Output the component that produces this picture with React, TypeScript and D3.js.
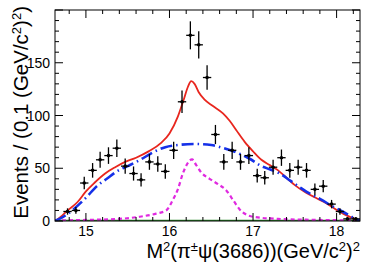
import React from "react";
import * as d3 from "d3";

const W = 367, H = 273;
const M = { left: 55, right: 360, top: 10, bottom: 221 };

const dataX = [14.78, 14.88, 14.98, 15.08, 15.17, 15.27, 15.37, 15.47, 15.57, 15.66, 15.76, 15.86, 15.95, 16.05, 16.15, 16.25, 16.35, 16.45, 16.55, 16.65, 16.75, 16.85, 16.95, 17.05, 17.14, 17.24, 17.34, 17.44, 17.54, 17.64, 17.74, 17.84, 17.94, 18.04, 18.13, 18.23];
const dataY = [9, 10, 36, 48, 58, 62, 69, 52, 45, 39, 56, 54, 47, 67, 113, 176, 167, 136, 82, 56, 67, 56, 62, 43, 41, 51, 60, 48, 51, 48, 30, 33, 16, 9, 2, 2];

const totalX = [14.63, 14.7, 14.78, 14.9, 15.0, 15.1, 15.23, 15.35, 15.47, 15.6, 15.75, 15.9, 16.0, 16.1, 16.17, 16.22, 16.26, 16.3, 16.35, 16.42, 16.52, 16.64, 16.72, 16.8, 16.9, 17.0, 17.1, 17.2, 17.3, 17.4, 17.5, 17.63, 17.75, 17.85, 17.95, 18.1, 18.23, 18.28];
const totalY = [0, 4, 10, 18, 28, 36, 45, 51, 56, 60, 66, 74, 83, 99, 115, 127, 132.5, 130, 122, 115, 109, 102, 95, 86, 75, 66, 58, 53, 48, 41, 34, 27, 22, 18, 13, 6, 1.5, 0];

const bkgX = [14.63, 14.75, 14.85, 15.0, 15.13, 15.25, 15.37, 15.5, 15.65, 15.8, 15.95, 16.1, 16.3, 16.5, 16.65, 16.8, 16.96, 17.1, 17.2, 17.32, 17.45, 17.56, 17.7, 17.8, 17.95, 18.07, 18.18, 18.28];
const bkgY = [0, 5, 11, 22, 33, 40, 47, 52, 58, 65, 70, 72, 73, 72, 69, 65, 59, 52, 49, 45, 38, 32, 25, 21, 14, 9, 4, 0];

const sigX = [14.63, 15.0, 15.4, 15.64, 15.84, 15.96, 16.04, 16.1, 16.16, 16.22, 16.27, 16.32, 16.38, 16.48, 16.58, 16.68, 16.76, 16.84, 16.92, 17.0, 17.3, 17.8, 18.28];
const sigY = [0.5, 1, 2, 4, 7, 10, 20, 30, 45, 55, 58.5, 53, 46, 40, 35, 29, 20, 11, 6, 4, 2, 1, 0.5];

const xMajor = [15, 16, 17, 18];
const yMajor = [0, 50, 100, 150];

export default function App() {
  const x = d3.scaleLinear().domain([14.63, 18.28]).range([M.left, M.right]);
  const y = d3.scaleLinear().domain([0, 200]).range([M.bottom, M.top]);
  const mk = (xs: number[], ys: number[]) =>
    d3.line<number>().x((_, i) => x(xs[i])).y((_, i) => y(ys[i])).curve(d3.curveMonotoneX)(xs);

  const xMinor = d3.range(14.8, 18.3, 0.2).map(v => +v.toFixed(2));
  const yMinor = d3.range(0, 201, 10);
  const font = "'Liberation Sans', Arial, sans-serif";

  return (
    <svg width={W} height={H} style={{ position: "absolute", left: 0, top: 0 }} fontFamily={font}>
      <rect width={W} height={H} fill="#fff" />
      <defs>
        <clipPath id="clip">
          <rect x={M.left} y={M.top} width={M.right - M.left} height={M.bottom - M.top} />
        </clipPath>
      </defs>
      <g clipPath="url(#clip)">
        <line x1={M.left} x2={M.right} y1={y(0) - 0.5} y2={y(0) - 0.5} stroke="#2e8b2e" strokeWidth={1.5} />
        <path d={mk(sigX, sigY) || ""} fill="none" stroke="#e02ae0" strokeWidth={2.2} strokeDasharray="4,3" />
        <path d={mk(totalX, totalY) || ""} fill="none" stroke="#e8261e" strokeWidth={1.8} />
        <path d={mk(bkgX, bkgY) || ""} fill="none" stroke="#1530e8" strokeWidth={2.6} strokeDasharray="12,4,1.5,4" />
        {dataX.map((v, i) => {
          const e = Math.sqrt(dataY[i]);
          return (
            <g key={i} stroke="#000" strokeWidth={1.3}>
              <line x1={x(v)} x2={x(v)} y1={y(Math.max(0, dataY[i] - e))} y2={y(dataY[i] + e)} />
              <line x1={x(v - 0.05)} x2={x(v + 0.05)} y1={y(dataY[i])} y2={y(dataY[i])} />
              <circle cx={x(v)} cy={y(dataY[i])} r={1.8} fill="#000" stroke="none" />
            </g>
          );
        })}
      </g>
      <rect x={M.left} y={M.top} width={M.right - M.left} height={M.bottom - M.top} fill="none" stroke="#000" strokeWidth={1} />
      <g stroke="#000" strokeWidth={1}>
        {xMinor.map(v => {
          const big = xMajor.some(m => Math.abs(m - v) < 1e-6);
          const L = big ? 8 : 4;
          return (
            <g key={"xt" + v}>
              <line x1={x(v)} x2={x(v)} y1={M.bottom} y2={M.bottom - L} />
              <line x1={x(v)} x2={x(v)} y1={M.top} y2={M.top + L} />
            </g>
          );
        })}
        {yMinor.map(v => {
          const big = v % 50 === 0;
          const L = big ? 8 : 4;
          return (
            <g key={"yt" + v}>
              <line x1={M.left} x2={M.left + L} y1={y(v)} y2={y(v)} />
              <line x1={M.right} x2={M.right - L} y1={y(v)} y2={y(v)} />
            </g>
          );
        })}
      </g>
      {xMajor.map(v => (
        <text key={"xl" + v} x={x(v)} y={236} textAnchor="middle" fontSize={14} fill="#000">{v}</text>
      ))}
      {yMajor.map(v => (
        <text key={"yl" + v} x={50} y={y(v) + 5} textAnchor="end" fontSize={14} fill="#000">{v}</text>
      ))}
      <text x={M.right} y={258} textAnchor="end" fontSize={20} fill="#000">
        M<tspan dy={-7} fontSize={13}>2</tspan>
        <tspan dy={7}>(π</tspan><tspan dy={-7} fontSize={13}>±</tspan>
        <tspan dy={7}>ψ(3686))(GeV/c</tspan><tspan dy={-7} fontSize={13}>2</tspan>
        <tspan dy={7}>)</tspan><tspan dy={-7} fontSize={13}>2</tspan>
      </text>
      <text transform="translate(28,6) rotate(-90)" textAnchor="end" fontSize={20.5} fill="#000">
        Events / (0.1 (GeV/c<tspan dy={-7} fontSize={13}>2</tspan>
        <tspan dy={7}>)</tspan><tspan dy={-7} fontSize={13}>2</tspan>
        <tspan dy={7}>)</tspan>
      </text>
    </svg>
  );
}
